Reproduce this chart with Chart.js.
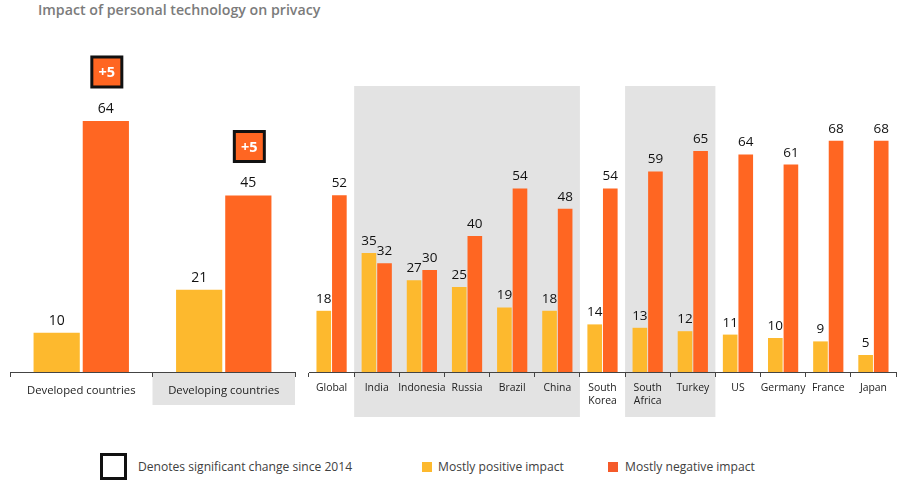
<!DOCTYPE html>
<html><head><meta charset="utf-8">
<script src="https://cdn.jsdelivr.net/npm/chart.js@4.4.1/dist/chart.umd.min.js"></script>
<style>
html,body{margin:0;padding:0;background:#fff}
body{width:900px;height:486px;position:relative;overflow:hidden;font-family:'Open Sans','Noto Sans',sans-serif}
#title{position:absolute;left:38px;top:0px;font-size:14.2px;font-weight:600;color:#7b7b7b;white-space:nowrap}
.cw{position:absolute;top:0;height:430px}
#leftWrap{left:0;width:305px}
#rightWrap{left:300px;width:600px}
.lg{position:absolute;white-space:nowrap;font-size:12.1px;color:#404040}
#lgBox{position:absolute;left:100px;top:453px;width:21px;height:21px;border:3px solid #111;background:#fff}
.sq{position:absolute;width:10px;height:10px}
</style>
</head><body>
<div id="title">Impact of personal technology on privacy</div>
<div class="cw" id="leftWrap"><canvas id="cLeft" width="305" height="430"></canvas></div>
<div class="cw" id="rightWrap"><canvas id="cRight" width="600" height="430"></canvas></div>
<div id="lgBox"></div>
<div class="lg" style="left:138px;top:458px">Denotes significant change since 2014</div>
<div class="sq" style="left:422px;top:462px;background:#FDB92E"></div>
<div class="lg" style="left:438px;top:458px">Mostly positive impact</div>
<div class="sq" style="left:608px;top:462px;background:#F55A2A"></div>
<div class="lg" style="left:625px;top:458px">Mostly negative impact</div>
<script>
const groupCats = ['Developed countries', 'Developing countries'];
const groupPositive = [10, 21];
const groupNegative = [64, 45];
const groupChange = [5, 5];

const countryCats = ['Global', 'India', 'Indonesia', 'Russia', 'Brazil', 'China', ['South', 'Korea'], ['South', 'Africa'], 'Turkey', 'US', 'Germany', 'France', 'Japan'];
const countryPositive = [18, 35, 27, 25, 19, 18, 14, 13, 12, 11, 10, 9, 5];
const countryNegative = [52, 32, 30, 40, 54, 48, 54, 59, 65, 64, 61, 68, 68];
const shadedCountryRanges = [[1, 5], [7, 8]];
const shadedGroupRanges = [[1, 1]];

const YELLOW = '#FDB92E';
const ORANGE = '#FF6622';
const FONT = "'Open Sans','Noto Sans',sans-serif";

function shadeBehind(ranges, top, bottom) {
  return {
    id: 'shadeBg',
    beforeDraw(chart) {
      const x = chart.scales.x, ctx = chart.ctx;
      const n = chart.data.labels.length;
      const w = x.width / n;
      ctx.save();
      ctx.fillStyle = '#E3E3E3';
      ranges.forEach(([a, b]) => {
        const l = x.getPixelForValue(a) - w / 2;
        const r = x.getPixelForValue(b) + w / 2;
        const t = top === null ? chart.chartArea.bottom + 1 : top;
        ctx.fillRect(l, t, r - l, bottom - t);
      });
      ctx.restore();
    },
  };
}

function labelPlugin(size, changes) {
  return {
    id: 'vals',
    afterDatasetsDraw(chart) {
      const ctx = chart.ctx;
      ctx.save();
      ctx.textAlign = 'center';
      ctx.textBaseline = 'bottom';
      ctx.fillStyle = '#111';
      ctx.font = size + 'px ' + FONT;
      chart.data.datasets.forEach((ds, di) => {
        chart.getDatasetMeta(di).data.forEach((el, i) => {
          ctx.fillText(String(ds.data[i]), el.x, el.y - 5);
        });
      });
      if (changes) {
        const meta = chart.getDatasetMeta(1);
        meta.data.forEach((el, i) => {
          if (!changes[i]) return;
          const cx = el.x + 1, cy = el.y - 49, s = 30;
          ctx.fillStyle = ORANGE;
          ctx.fillRect(cx - s / 2, cy - s / 2, s, s);
          ctx.lineWidth = 3;
          ctx.strokeStyle = '#111';
          ctx.strokeRect(cx - s / 2, cy - s / 2, s, s);
          ctx.fillStyle = '#fff';
          ctx.font = 'bold 14.5px ' + FONT;
          ctx.textBaseline = 'middle';
          ctx.fillText('+' + changes[i], cx, cy + 1);
        });
      }
      ctx.restore();
    },
  };
}

function makeChart(id, labels, pos, neg, yMax, padL, padR, tickFont, tickPad, plugins) {
  return new Chart(document.getElementById(id), {
    type: 'bar',
    data: {
      labels: labels,
      datasets: [
        { label: 'Mostly positive impact', data: pos, backgroundColor: YELLOW, borderWidth: 0, categoryPercentage: 0.69, barPercentage: 0.94 },
        { label: 'Mostly negative impact', data: neg, backgroundColor: ORANGE, borderWidth: 0, categoryPercentage: 0.69, barPercentage: 0.94 },
      ],
    },
    options: {
      responsive: false,
      animation: false,
      devicePixelRatio: 1,
      layout: { padding: { left: padL, right: padR, top: 50, bottom: 0 } },
      plugins: { legend: { display: false }, tooltip: { enabled: false }, title: { display: false } },
      scales: {
        y: { display: false, min: 0, max: yMax },
        x: {
          grid: { display: true, drawOnChartArea: false, drawTicks: true, tickLength: 5, color: '#444', offset: true },
          border: { display: true, color: '#444', width: 1 },
          ticks: { color: '#222', font: { size: tickFont, family: FONT, lineHeight: 1.3 }, padding: tickPad, maxRotation: 0, minRotation: 0, autoSkip: false },
          afterFit(s) { s.height = 58; },
        },
      },
    },
    plugins: plugins,
  });
}

makeChart('cLeft', groupCats, groupPositive, groupNegative, 82.1, 10, 10, 11.3, 6,
  [shadeBehind(shadedGroupRanges, null, 405), labelPlugin(14, groupChange)]);
makeChart('cRight', countryCats, countryPositive, countryNegative, 94.7, 9, 4, 10.4, 4,
  [shadeBehind(shadedCountryRanges, 86, 417), labelPlugin(13.5, null)]);
</script>
</body></html>
